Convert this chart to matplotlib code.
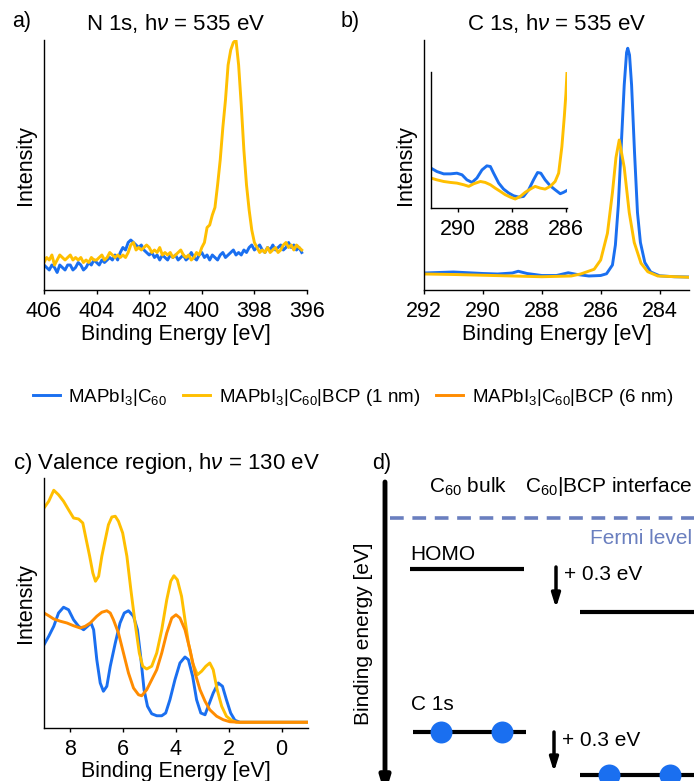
import matplotlib
matplotlib.use('Agg')
import matplotlib.pyplot as plt
import numpy as np

plt.rcParams['font.family'] = ['Liberation Sans', 'DejaVu Sans']
plt.rcParams['mathtext.fontset'] = 'custom'
plt.rcParams['mathtext.rm'] = 'Liberation Sans'
plt.rcParams['mathtext.it'] = 'Liberation Sans:italic'
plt.rcParams['axes.linewidth'] = 1.0

BLUE = '#1a6ff0'
YELLOW = '#ffbf00'
ORANGE = '#ff8c00'
FERMI = '#6a7fbf'

# ---- a) N 1s, sampled every 0.1 eV from 406.0 down to 396.2 ----
n1s_i_blue = [.10, .09, .08, .10, .09, .07, .10, .09, .08, .10,
              .10, .08, .09, .11, .10, .08, .09, .11, .10, .12,
              .11, .10, .12, .11, .12, .13, .12, .14, .12, .15,
              .17, .16, .19, .20, .19, .18, .17, .18, .16, .15,
              .14, .15, .13, .14, .12, .14, .13, .12, .14, .13,
              .14, .12, .13, .14, .12, .13, .15, .13, .12, .14,
              .15, .13, .14, .12, .14, .13, .12, .14, .15, .13,
              .14, .15, .16, .14, .15, .14, .16, .15, .17, .18,
              .16, .17, .18, .16, .15, .17, .16, .18, .16, .17,
              .18, .16, .17, .19, .17, .18, .16, .17, .15]
n1s_i_yel = [.11, .13, .12, .14, .10, .12, .14, .13, .12, .13,
             .14, .12, .13, .12, .13, .11, .12, .11, .13, .12,
             .12, .13, .14, .12, .13, .15, .14, .13, .14, .13,
             .14, .13, .15, .18, .19, .16, .17, .16, .17, .18,
             .17, .15, .16, .15, .17, .14, .15, .14, .15, .13,
             .14, .15, .16, .14, .13, .14, .12, .13, .15, .14,
             .17, .19, .25, .26, .30, .33, .42, .52, .65, .76,
             .90, .96, .99, 1.0, .90, .74, .56, .42, .32, .24,
             .19, .17, .15, .16, .15, .17, .15, .16, .17, .15,
             .16, .18, .19, .17, .18, .16, .18, .17, .16]
n1s_e_blue = np.linspace(406.0, 396.2, len(n1s_i_blue))
n1s_e_yel = np.linspace(406.0, 396.2, len(n1s_i_yel))

# ---- b) C 1s ----
c1s_e_blue = [292.0, 291.5, 291.0, 290.5, 290.0, 289.5, 289.0, 288.8, 288.5, 288.0, 287.5,
              287.1, 286.8, 286.4, 286.0, 285.8, 285.6, 285.5, 285.4, 285.3, 285.2, 285.12,
              285.08, 285.02, 284.95, 284.85, 284.75, 284.65, 284.5, 284.3, 284.0, 283.5, 283.0]
c1s_i_blue = [0.068, 0.070, 0.072, 0.069, 0.066, 0.064, 0.068, 0.075, 0.066, 0.058, 0.058,
              0.069, 0.062, 0.056, 0.058, 0.065, 0.10, 0.18, 0.34, 0.58, 0.82, 0.95,
              0.967, 0.94, 0.82, 0.55, 0.31, 0.19, 0.11, 0.072, 0.057, 0.053, 0.052]
c1s_e_yel = [292.0, 291.0, 290.0, 289.0, 288.0, 287.0, 286.68, 286.22, 286.0, 285.77, 285.6,
             285.48, 285.37, 285.2, 285.03, 284.86, 284.63, 284.4, 284.06, 283.0]
c1s_i_yel = [0.064, 0.062, 0.059, 0.056, 0.053, 0.056, 0.064, 0.083, 0.12, 0.227, 0.39,
             0.53, 0.60, 0.49, 0.31, 0.19, 0.107, 0.073, 0.056, 0.051]

# inset
ins_e_blue = [291.00, 290.78, 290.53, 290.28, 290.04, 289.85, 289.67, 289.48, 289.30, 289.11,
              288.93, 288.80, 288.68, 288.49, 288.31, 288.12, 287.94, 287.75, 287.57, 287.38,
              287.20, 287.05, 286.93, 286.77, 286.58, 286.40, 286.21, 286.09, 285.96]
ins_i_blue = [0.293, 0.268, 0.251, 0.251, 0.256, 0.244, 0.207, 0.188, 0.22, 0.28,
              0.31, 0.305, 0.256, 0.183, 0.139, 0.11, 0.09, 0.08, 0.085, 0.134,
              0.207, 0.261, 0.256, 0.207, 0.163, 0.134, 0.105, 0.115, 0.129]
ins_e_yel = [291.00, 290.78, 290.53, 290.28, 290.04, 289.79, 289.60, 289.42, 289.17, 288.99,
             288.80, 288.62, 288.43, 288.25, 288.06, 287.88, 287.69, 287.51, 287.32, 287.14,
             286.95, 286.77, 286.58, 286.40, 286.27, 286.15, 286.06, 286.00, 285.96]
ins_i_yel = [0.22, 0.207, 0.195, 0.188, 0.183, 0.171, 0.159, 0.178, 0.195, 0.188,
             0.171, 0.146, 0.122, 0.098, 0.08, 0.066, 0.085, 0.115, 0.139, 0.159,
             0.146, 0.139, 0.159, 0.195, 0.256, 0.451, 0.671, 0.841, 1.0]

# ---- c) valence region ----
vb_e_yel = [9.00, 8.82, 8.63, 8.45, 8.26, 8.07, 7.88, 7.69, 7.53, 7.40, 7.27, 7.15, 7.05, 6.93,
            6.81, 6.68, 6.56, 6.43, 6.30, 6.18, 6.02, 5.86, 5.71, 5.55, 5.39, 5.26, 5.11, 4.92,
            4.73, 4.54, 4.35, 4.20, 4.08, 3.95, 3.79, 3.66, 3.53, 3.37, 3.19, 3.03, 2.87, 2.72,
            2.59, 2.44, 2.27, 2.09, 1.90, 1.71, 1.46, -1.0]
vb_i_yel = [0.88, 0.907, 0.951, 0.933, 0.907, 0.873, 0.84, 0.836, 0.82, 0.753, 0.687, 0.62, 0.587, 0.607,
            0.687, 0.753, 0.813, 0.844, 0.847, 0.827, 0.78, 0.687, 0.553, 0.42, 0.30, 0.247, 0.236, 0.247,
            0.30, 0.393, 0.513, 0.587, 0.609, 0.593, 0.527, 0.433, 0.34, 0.26, 0.213, 0.227, 0.247, 0.26,
            0.233, 0.153, 0.087, 0.047, 0.031, 0.023, 0.023, 0.023]
vb_e_blue = [9.00, 8.82, 8.63, 8.45, 8.26, 8.07, 7.88, 7.69, 7.50, 7.35, 7.22, 7.12, 7.00, 6.87,
             6.75, 6.62, 6.49, 6.30, 6.12, 5.96, 5.80, 5.61, 5.46, 5.34, 5.21, 5.08, 4.92, 4.73,
             4.54, 4.39, 4.23, 4.04, 3.85, 3.66, 3.53, 3.37, 3.22, 3.06, 2.90, 2.78, 2.59, 2.40,
             2.24, 2.09, 1.93, 1.77, 1.58, -1.0]
vb_i_blue = [0.333, 0.367, 0.407, 0.46, 0.483, 0.473, 0.433, 0.407, 0.393, 0.407, 0.42, 0.393, 0.273, 0.18,
             0.147, 0.167, 0.247, 0.34, 0.42, 0.46, 0.469, 0.447, 0.393, 0.287, 0.153, 0.087, 0.057, 0.049,
             0.049, 0.06, 0.113, 0.193, 0.26, 0.284, 0.273, 0.207, 0.113, 0.06, 0.053, 0.087, 0.14, 0.18,
             0.167, 0.113, 0.06, 0.031, 0.023, 0.023]
vb_e_or = [9.00, 8.82, 8.63, 8.38, 8.13, 7.88, 7.63, 7.44, 7.25, 7.00, 6.81, 6.62, 6.49, 6.37,
           6.18, 5.99, 5.80, 5.61, 5.42, 5.30, 5.11, 4.92, 4.73, 4.54, 4.35, 4.16, 4.00, 3.85,
           3.66, 3.47, 3.28, 3.09, 2.90, 2.72, 2.46, 2.21, 1.96, 1.58, -1.0]
vb_i_or = [0.46, 0.449, 0.436, 0.427, 0.42, 0.409, 0.40, 0.407, 0.42, 0.447, 0.463, 0.469, 0.46, 0.433,
           0.38, 0.30, 0.22, 0.16, 0.133, 0.129, 0.153, 0.193, 0.233, 0.30, 0.38, 0.44, 0.453, 0.44,
           0.393, 0.313, 0.22, 0.153, 0.107, 0.073, 0.047, 0.033, 0.025, 0.023, 0.023]

labels = [r'MAPbI$_3$|C$_{60}$', r'MAPbI$_3$|C$_{60}$|BCP (1 nm)', r'MAPbI$_3$|C$_{60}$|BCP (6 nm)']

W, H = 694, 781
fig = plt.figure(figsize=(W / 100, H / 100), dpi=100)


def box(l, t, r, b):
    return [l / W, 1 - b / H, (r - l) / W, (b - t) / H]


def style(ax, fs=15.5):
    ax.spines['right'].set_visible(False)
    ax.spines['top'].set_visible(False)
    ax.set_yticks([])
    ax.tick_params(axis='x', direction='out', length=3, width=1.0, labelsize=fs, pad=5)


lw = 2.1
FS = 15.5
FSD = 15  # panel d text

# a)
ax_a = fig.add_axes(box(44, 40, 307, 290))
ax_a.plot(n1s_e_blue, n1s_i_blue, color=BLUE, lw=lw)
ax_a.plot(n1s_e_yel, n1s_i_yel, color=YELLOW, lw=lw)
ax_a.set_xlim(406, 396)
ax_a.set_ylim(0, 1)
ax_a.set_xticks([406, 404, 402, 400, 398, 396])
style(ax_a)
ax_a.set_xlabel('Binding Energy [eV]', fontsize=FS, labelpad=1)
ax_a.set_ylabel('Intensity', fontsize=FS, labelpad=6)
ax_a.set_title(r'N 1s, h$\nu$ = 535 eV', fontsize=16, pad=7)
fig.text(12 / W, 1 - 22 / H, 'a)', fontsize=FS, va='center')

# b)
ax_b = fig.add_axes(box(424, 40, 689, 290))
ax_b.plot(c1s_e_blue, c1s_i_blue, color=BLUE, lw=lw)
ax_b.plot(c1s_e_yel, c1s_i_yel, color=YELLOW, lw=lw)
ax_b.set_xlim(292, 283)
ax_b.set_ylim(0, 1)
ax_b.set_xticks([292, 290, 288, 286, 284])
style(ax_b)
ax_b.set_xlabel('Binding Energy [eV]', fontsize=FS, labelpad=1)
ax_b.set_ylabel('Intensity', fontsize=FS, labelpad=6)
ax_b.set_title(r'C 1s, h$\nu$ = 535 eV', fontsize=16, pad=7)
fig.text(341 / W, 1 - 22 / H, 'b)', fontsize=FS, va='center')

ax_in = fig.add_axes(box(431, 72, 567, 208))
ax_in.plot(ins_e_blue, ins_i_blue, color=BLUE, lw=lw)
ax_in.plot(ins_e_yel, ins_i_yel, color=YELLOW, lw=lw)
ax_in.set_xlim(291, 285.96)
ax_in.set_ylim(0, 1)
ax_in.set_xticks([290, 288, 286])
style(ax_in)
ax_in.patch.set_alpha(0)

# c)
ax_c = fig.add_axes(box(44, 478, 308, 728))
h1, = ax_c.plot(vb_e_blue, vb_i_blue, color=BLUE, lw=lw)
h2, = ax_c.plot(vb_e_yel, vb_i_yel, color=YELLOW, lw=lw)
h3, = ax_c.plot(vb_e_or, vb_i_or, color=ORANGE, lw=lw)
ax_c.set_xlim(9, -1)
ax_c.set_ylim(0, 1)
ax_c.set_xticks([8, 6, 4, 2, 0])
style(ax_c)
ax_c.set_xlabel('Binding Energy [eV]', fontsize=FS, labelpad=1)
ax_c.set_ylabel('Intensity', fontsize=FS, labelpad=6)
fig.text(13 / W, 1 - 463 / H, r'c) Valence region, h$\nu$ = 130 eV', fontsize=16, va='center')

fig.legend([h1, h2, h3], labels, loc='center', bbox_to_anchor=(353 / W, 1 - 397 / H),
           ncol=3, frameon=False, fontsize=13.5, handlelength=1.45, handletextpad=0.45,
           columnspacing=0.85, borderpad=0)

# d) schematic energy diagram (schematic units matching figure pixels)
ax_d = fig.add_axes([0, 0, 1, 1])
ax_d.set_xlim(0, W)
ax_d.set_ylim(H, 0)
ax_d.axis('off')
ax_d.patch.set_alpha(0)

ax_d.text(372, 463, 'd)', fontsize=FS, va='center')
ax_d.annotate('', xy=(385, 795), xytext=(385, 482), annotation_clip=False,
              arrowprops=dict(arrowstyle='-|>,head_width=0.3,head_length=1.0', lw=3.5,
                              color='black', shrinkA=0, shrinkB=0))
ax_d.text(364, 634, 'Binding energy [eV]', fontsize=FSD, rotation=90, ha='center', va='center')

ax_d.text(429, 487, r'C$_{60}$ bulk', fontsize=FSD, va='center')
ax_d.text(692, 487, r'C$_{60}$|BCP interface', fontsize=FSD, va='center', ha='right')

ax_d.plot([390, 694], [518, 518], color=FERMI, lw=2.6, dashes=(3.8, 2.4))
ax_d.text(692, 539, 'Fermi level', fontsize=FSD, color=FERMI, ha='right', va='center')

# levels: (x_start, x_end, y)
level_bulk = [(410, 524, 569), (413, 526, 732)]
level_int = [(580, 694, 612), (580, 694, 775)]
for x0, x1, y in level_bulk + level_int:
    ax_d.plot([x0, x1], [y, y], color='black', lw=3, solid_capstyle='butt')

ax_d.text(410, 555, 'HOMO', fontsize=FSD, va='center')
ax_d.text(411, 705, 'C 1s', fontsize=FSD, va='center')

core_x_bulk = [441, 502]
core_x_int = [609, 670]
ax_d.scatter(core_x_bulk, [732, 732], s=250, color=BLUE, zorder=3, linewidths=0)
ax_d.scatter(core_x_int, [775, 775], s=250, color=BLUE, zorder=3, linewidths=0, clip_on=False)

for x, y0, y1, ty in [(556, 567, 608, 575), (554, 732, 772, 740)]:
    ax_d.annotate('', xy=(x, y1), xytext=(x, y0), annotation_clip=False,
                  arrowprops=dict(arrowstyle='-|>,head_width=0.25,head_length=0.8', lw=2.5,
                                  color='black', shrinkA=0, shrinkB=0))
    ax_d.text(x + 8, ty, '+ 0.3 eV', fontsize=FSD, va='center')

fig.savefig('out.png', dpi=100)
